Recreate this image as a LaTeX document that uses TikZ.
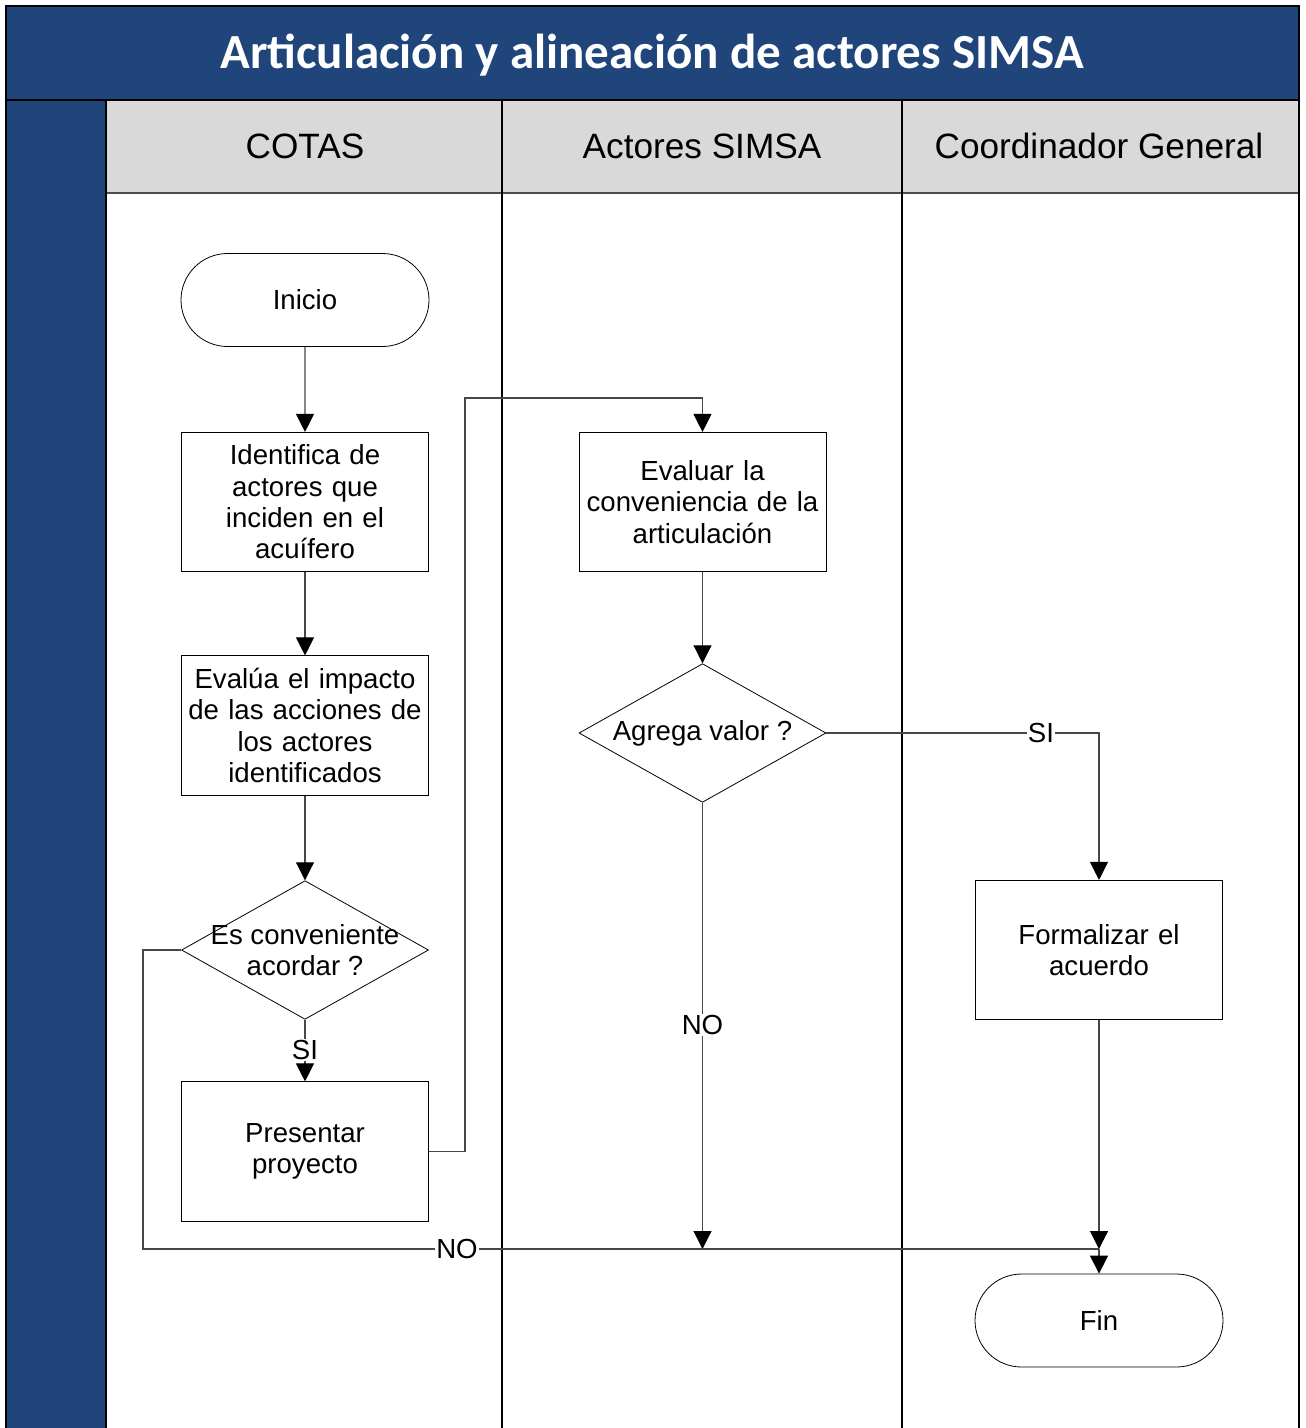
\documentclass[tikz,border=0pt]{standalone}
\usepackage{fontspec}
\setmainfont{Liberation Sans}
\newfontfamily\titlefont{Carlito}
\usetikzlibrary{arrows.meta,shapes.geometric,shapes.misc}
\definecolor{bandblue}{RGB}{32,69,122}
\definecolor{headgray}{RGB}{217,217,217}
\newcommand\flowfont{\fontsize{20.7}{23.5}\selectfont}
\newcommand\headfont{\fontsize{26.4}{30}\selectfont}

\begin{document}
\begin{tikzpicture}[x=0.75pt,y=-0.75pt,
  proc/.style={draw=black, line width=0.6pt, minimum width=185.25pt,
    minimum height=104.5pt, inner sep=0pt, text width=182pt, align=center, font=\flowfont},
  term/.style={rounded rectangle, draw=black, line width=0.6pt, minimum width=186pt,
    minimum height=69.75pt, inner sep=0pt, font=\flowfont},
  decision/.style={diamond, draw=black, line width=0.6pt, minimum width=185.25pt,
    minimum height=104pt, inner sep=0pt, aspect=1.8},
  conn/.style={draw=black!72, line width=0.8pt},
  arr/.style={conn, -{Triangle[length=13.5pt,width=13.5pt,color=black]}},
  lbl/.style={fill=white, inner sep=1pt, font=\flowfont},
  lanehead/.style={font=\headfont}]
\useasboundingbox (0,0) rectangle (1306,1428);

% title band, side strip and lane headers
\fill[bandblue] (6,6) rectangle (1299,100);
\fill[bandblue] (6,100) rectangle (106,1428);
\fill[headgray] (106,100) rectangle (1299,193);
\draw[black!70, line width=0.9pt] (106,193) -- (1299,193);
\draw[black, line width=1pt] (502,100) -- (502,1428) (902,100) -- (902,1428);
\draw[black, line width=1.8pt] (6,100) -- (1299,100) (106,100) -- (106,1428);
\draw[black, line width=2pt] (6,1428) -- (6,6) -- (1299,6) -- (1299,1428);

\node[text=white, font=\titlefont\bfseries\fontsize{36.8}{42}\selectfont] (title) at (652,55)
  {Articulación y alineación de actores SIMSA};
\node[lanehead] (h1) at (305,146) {COTAS};
\node[lanehead] (h2) at (702,146) {Actores SIMSA};
\node[lanehead] (h3) at (1099,146) {Coordinador General};

% flow nodes
\node[term] (inicio) at (305,300) {Inicio};
\node[proc] (ident) at (305,502) {Identifica de\\actores que\\inciden en el\\acuífero};
\node[proc] (evalua) at (305,725.5) {Evalúa el impacto\\de las acciones de\\los actores\\identificados};
\node[decision, label={[align=center, font=\flowfont]center:Es conveniente\\acordar ?}] (conv) at (305,950) {};
\node[proc] (pres) at (305,1151.5) {Presentar\\proyecto};
\node[proc] (evalart) at (702.5,502) {Evaluar la\\conveniencia de la\\articulación};
\node[decision, label={[font=\flowfont]center:Agrega valor ?}] (valor) at (702.5,733) {};
\node[proc] (form) at (1099,950) {Formalizar el\\acuerdo};
\node[term] (fin) at (1099,1320.5) {Fin};

\coordinate (merge) at (1099,1249);
\coordinate (noend) at (702.5,1249);

% connectors
\draw[arr] (inicio) -- (ident);
\draw[arr] (ident) -- (evalua);
\draw[arr] (evalua) -- (conv);
\draw[arr] (conv.south) -- (pres.north);
\node[lbl] (si1) at (305,1050) {SI};
\draw[arr] (pres.east) -- (465,1151.5) -- (465,398) -| (evalart.north);
\draw[arr] (evalart) -- (valor);
\draw[arr] (valor.east) -| (form.north);
\node[lbl] (si2) at (1041,733) {SI};
\draw[arr] (valor.south) -- (noend);
\node[lbl] (no2) at (702.5,1025) {NO};
\draw[conn] (conv.west) -- (143,950) |- (merge);
\node[lbl] (no1) at (457,1249) {NO};
\draw[arr] (form.south) -- (merge);
\draw[arr] (merge) -- (fin.north);
\end{tikzpicture}
\end{document}
